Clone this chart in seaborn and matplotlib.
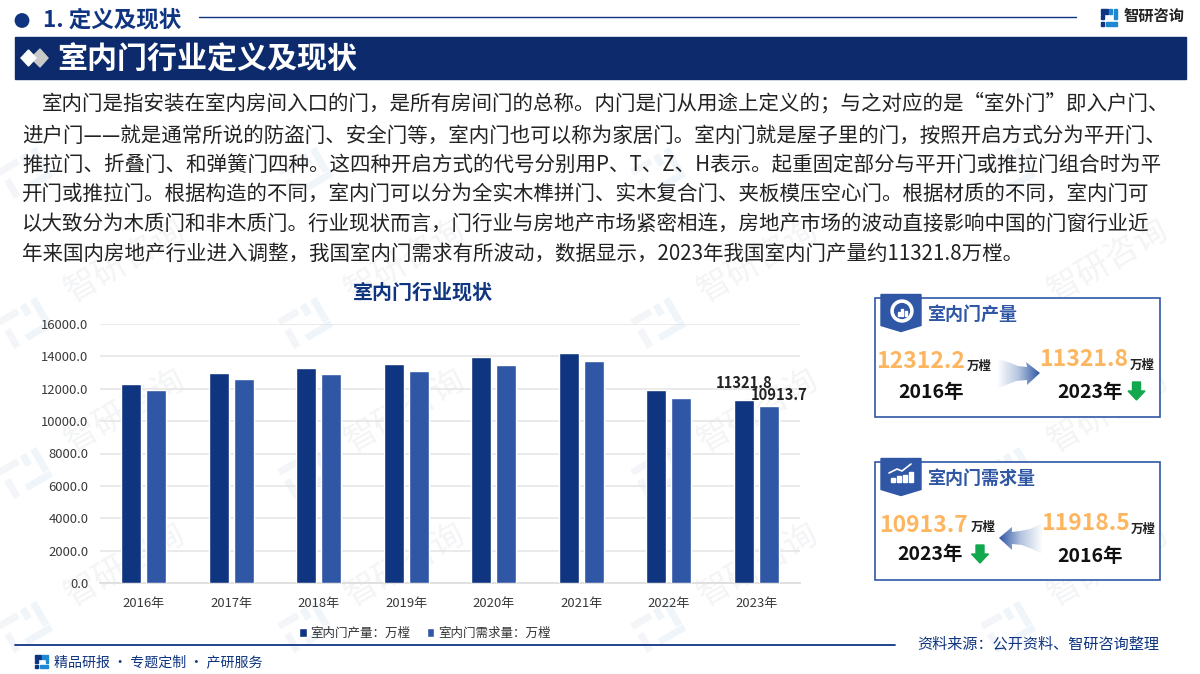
import numpy as np
import pandas as pd
import matplotlib
matplotlib.use("Agg")
import matplotlib.pyplot as plt
from matplotlib.patches import Polygon, Rectangle, Circle, Wedge
from matplotlib.transforms import Affine2D
import seaborn as sns

years = ["2016年", "2017年", "2018年", "2019年", "2020年", "2021年", "2022年", "2023年"]
output_vals = [12312.2, 13000, 13270, 13520, 13950, 14200, 11900, 11321.8]
demand_vals = [11918.5, 12590, 12900, 13085, 13450, 13700, 11410, 10913.7]
series_names = ["室内门产量：万樘", "室内门需求量：万樘"]
para_lines = [
    "室内门是指安装在室内房间入口的门，是所有房间门的总称。内门是门从用途上定义的；与之对应的是“室外门”即入户门、",
    "进户门——就是通常所说的防盗门、安全门等，室内门也可以称为家居门。室内门就是屋子里的门，按照开启方式分为平开门、",
    "推拉门、折叠门、和弹簧门四种。这四种开启方式的代号分别用P、T、Z、H表示。起重固定部分与平开门或推拉门组合时为平",
    "开门或推拉门。根据构造的不同，室内门可以分为全实木榫拼门、实木复合门、夹板模压空心门。根据材质的不同，室内门可",
    "以大致分为木质门和非木质门。行业现状而言，门行业与房地产市场紧密相连，房地产市场的波动直接影响中国的门窗行业近",
    "年来国内房地产行业进入调整，我国室内门需求有所波动，数据显示，2023年我国室内门产量约11321.8万樘。",
]

NAVY = "#0f3580"
BAND = "#0c2a6c"
BLUE = "#2f57a5"
ORANGE = "#fdb55f"
GREEN = "#12a84e"
SKY = "#1e88d2"
WM_GREY = "#f3f5f8"
WM_BLUE = "#f0f5fa"

sns.set_theme(style="white")
plt.rcParams["font.family"] = ["Noto Sans CJK SC", "DejaVu Sans"]

fig = plt.figure(figsize=(12, 6.74), dpi=100)
bg = fig.add_axes([0, 0, 1, 1], zorder=0)
bg.set_xlim(0, 1200)
bg.set_ylim(674, 0)
bg.axis("off")

# watermarks: a small logo with the company name rising to the right
for ly in [173, 323, 473, 627]:
    for lx in [27, 307, 660, 1010]:
        rot = Affine2D().rotate_deg_around(lx, ly, -30) + bg.transData
        for (dx, dy, w, h, c) in [(-24, -18, 22, 7, WM_GREY), (-24, -4, 7, 20, WM_GREY), (-24, 10, 4, 6, WM_GREY),
                                  (2, -18, 7, 12, WM_BLUE), (14, -18, 7, 26, WM_BLUE), (-8, 9, 29, 7, WM_BLUE)]:
            bg.add_patch(Rectangle((lx + dx, ly + dy), w, h, fc=c, ec="none", transform=rot, zorder=0))
        if ly > 200:
            bg.text(lx + 98, ly - 62, "智研咨询", fontsize=24, color="#f3f4f6", rotation=30,
                    ha="center", va="center", zorder=0)

# header
bg.add_patch(Circle((22, 20.5), 6.7, color=NAVY))
bg.text(43, 20, "1. 定义及现状", fontsize=16.2, fontweight="bold", color=NAVY, va="center")
bg.plot([199, 1076], [17, 17], color=NAVY, lw=1)
bg.add_patch(Rectangle((1100.5, 9), 7, 5, color=NAVY))
bg.add_patch(Rectangle((1100.5, 15), 3, 4, color=NAVY))
bg.add_patch(Rectangle((1100.5, 22), 3, 4, color=NAVY))
bg.add_patch(Rectangle((1109, 9), 3, 5, color=SKY))
bg.add_patch(Rectangle((1113.5, 9), 3, 10, color=SKY))
bg.add_patch(Rectangle((1106, 22), 11, 4, color=SKY))
bg.text(1124, 16, "智研咨询", fontsize=11, fontweight="bold", color="#222222", va="center")

# title band
bg.add_patch(Rectangle((15, 37), 1171, 42, color=BAND))
bg.add_patch(Polygon([(40, 49), (48, 58), (40, 67), (31, 58)], color="#c9c9c9", zorder=2))
bg.add_patch(Polygon([(28.5, 50), (36, 58), (28.5, 66), (21, 58)], color="white", zorder=3))
bg.text(57, 60, "室内门行业定义及现状", fontsize=21.6, fontweight="bold", color="white", va="center")

# paragraph
line_y = [104, 136, 165, 194, 224, 254]
line_x = [42, 22, 22, 22, 22, 22]
for s, x, y in zip(para_lines, line_x, line_y):
    bg.text(x, y, s, fontsize=14.75, color="#222222", va="center")

# chart
ax = fig.add_axes([100 / 1200, 1 - 583 / 674, 700 / 1200, 259 / 674], zorder=1)
ax.patch.set_alpha(0)
df = pd.DataFrame({
    "year": years * 2,
    "value": output_vals + demand_vals,
    "series": [series_names[0]] * len(years) + [series_names[1]] * len(years),
})
sns.barplot(data=df, x="year", y="value", hue="series", palette=[NAVY, BLUE], ax=ax,
            width=0.571, gap=0.2, saturation=1, zorder=3)
ax.set_ylim(0, 16000)
ax.set_xlim(-0.5, 7.5)
ax.set_yticks(np.arange(0, 16001, 2000))
ax.set_yticklabels([f"{v:.1f}" for v in np.arange(0, 16001, 2000)])
ax.set_xlabel("")
ax.set_ylabel("")
ax.grid(axis="y", color="#e4e4e4", lw=1.1, zorder=0)
ax.set_axisbelow(True)
for s in ["top", "right", "left"]:
    ax.spines[s].set_visible(False)
ax.spines["bottom"].set_color("#dddddd")
ax.tick_params(axis="both", length=0, labelsize=9.4, labelcolor="#3a3a3a")
ax.tick_params(axis="y", pad=8.5)
ax.tick_params(axis="x", pad=10)
sns.move_legend(ax, "upper center", bbox_to_anchor=(0.464, -0.125), ncol=2, frameon=False, title=None,
                fontsize=9, handlelength=0.62, handleheight=0.7, columnspacing=1.3, handletextpad=0.3,
                labelcolor="#333333")
last = len(years) - 1
ax.annotate(f"{output_vals[last]:.1f}", (last - 0.143, output_vals[last]), xytext=(0, 12),
            textcoords="offset points", ha="center", va="center", fontsize=10.6, fontweight="bold", color="#222222")
ax.annotate(f"{demand_vals[last]:.1f}", (last + 0.143, demand_vals[last]), xytext=(7.6, 8.2),
            textcoords="offset points", ha="center", va="center", fontsize=10.6, fontweight="bold", color="#222222")
bg.text(423, 292, "室内门行业现状", fontsize=14.4, fontweight="bold", color=NAVY, ha="center", va="center")


def gradient_arrow(pts, left_to_right=True):
    xs = [p[0] for p in pts]
    ys = [p[1] for p in pts]
    patch = Polygon(pts, closed=True, fc="none", ec="none", zorder=3)
    bg.add_patch(patch)
    g = np.linspace(0, 1, 128).reshape(1, -1)
    if not left_to_right:
        g = g[:, ::-1]
    cmap = matplotlib.colors.LinearSegmentedColormap.from_list("a", ["#ffffff", "#b5c5df", "#2f57a5"])
    im = bg.imshow(g, extent=[min(xs), max(xs), max(ys), min(ys)], cmap=cmap, aspect="auto", zorder=3)
    im.set_clip_path(patch)
    bg.set_xlim(0, 1200)
    bg.set_ylim(674, 0)


def down_arrow(cx, cy):
    pts = [(cx - 4, cy - 9), (cx + 4, cy - 9), (cx + 4, cy), (cx + 8.5, cy), (cx, cy + 9), (cx - 8.5, cy), (cx - 4, cy)]
    bg.add_patch(Polygon(pts, color=GREEN, zorder=3))


def label(x, y, s, size, color):
    bg.text(x, y, s, fontsize=size, fontweight="bold", color=color, ha="center", va="center", zorder=4)


def panel(y0, y1, title):
    bg.add_patch(Rectangle((875, y0), 285, y1 - y0, fc="white", ec=BLUE, lw=1.2, zorder=2))
    by = y0 - 3.5
    bg.add_patch(Polygon([(881, by), (921, by), (921, by + 31), (901, by + 37), (881, by + 31)], color=BLUE, zorder=3))
    bg.text(928, y0 + 16, title, fontsize=13, fontweight="bold", color=BLUE, va="center", zorder=4)


panel(298, 417, "室内门产量")
label(920.5, 362, "12312.2", 16.5, ORANGE)
label(1084, 360, "11321.8", 16.5, ORANGE)
label(979.5, 366, "万樘", 9, "#222222")
label(1142.5, 365, "万樘", 9, "#222222")
label(931, 392, "2016年", 14, "#111111")
label(1090, 392, "2023年", 14, "#111111")
gradient_arrow([(997, 359), (1008, 362), (1018, 366), (1027, 367), (1026, 362), (1040, 373),
                (1027, 385), (1027, 380), (1016, 381), (1006, 385), (997, 389)])
down_arrow(1136.5, 391)

panel(462, 580, "室内门需求量")
label(923.5, 526, "10913.7", 16.5, ORANGE)
label(1085.5, 524, "11918.5", 16.5, ORANGE)
label(983, 527, "万樘", 9, "#222222")
label(1143.5, 529, "万樘", 9, "#222222")
label(930, 554, "2023年", 14, "#111111")
label(1090, 557, "2016年", 14, "#111111")
gradient_arrow([(1043, 523), (1030, 529), (1020, 531), (1012, 532), (1012, 527), (999, 538),
                (1012, 550), (1012, 544), (1022, 545), (1032, 549), (1043, 554)], left_to_right=False)
down_arrow(980, 554)

# panel icons
bg.add_patch(Wedge((902, 311), 11, 0, 360, width=3.6, color="white", zorder=4))
bg.add_patch(Circle((902, 311), 7.4, color=BLUE, zorder=4))
for dx, h in [(-4.5, 4), (-1, 7), (2.5, 5)]:
    bg.add_patch(Rectangle((902 + dx, 316 - h), 2.2, h, color="white", zorder=5))
for bx, h in [(891, 4), (897, 6), (903, 7), (909, 10)]:
    bg.add_patch(Rectangle((bx, 482 - h), 3.5, h, color="white", zorder=4))
bg.plot([889, 897, 902, 911], [473, 469, 471, 464], color="white", lw=1.2, zorder=4)

# footer
bg.plot([15, 895], [645, 645], color=NAVY, lw=1.3)
bg.text(1159, 644, "资料来源：公开资料、智研咨询整理", fontsize=10.9, color=NAVY, ha="right", va="center")
bg.add_patch(Rectangle((35, 655), 6, 4, color=NAVY))
bg.add_patch(Rectangle((35, 660), 3, 3, color=NAVY))
bg.add_patch(Rectangle((35, 665), 3, 3, color=NAVY))
bg.add_patch(Rectangle((42, 655), 2.5, 4, color=SKY))
bg.add_patch(Rectangle((45.5, 655), 2.5, 8, color=SKY))
bg.add_patch(Rectangle((40, 665), 8, 3, color=SKY))
bg.text(54, 662, "精品研报 · 专题定制 · 产研服务", fontsize=10.1, color=NAVY, va="center")

fig.savefig("out.png", dpi=100)
